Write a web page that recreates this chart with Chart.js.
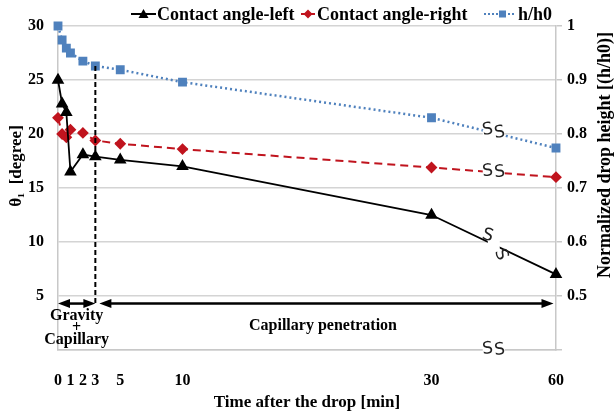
<!DOCTYPE html>
<html lang="en">
<head>
    <meta charset="UTF-8">
    <title>Contact angle and drop height</title>
    <script src="https://cdn.jsdelivr.net/npm/chart.js"></script>
    <style>
        body { margin: 0; background: #fff; }
    </style>
</head>
<body>
    <canvas id="angleChart" width="615" height="414"></canvas>

    <script>
        var timeMin = [0, 0.33, 0.67, 1, 2, 3, 5, 10, 30, 60];
        var angleLeft = [25.0, 22.8, 22.0, 16.5, 18.1, 17.9, 17.6, 17.0, 12.5, 7.0];
        var angleRight = [21.5, 20.0, 19.7, 20.4, 20.1, 19.4, 19.1, 18.6, 16.9, 16.0];
        var heightRatio = [1.0, 0.974, 0.959, 0.95, 0.935, 0.926, 0.919, 0.896, 0.830, 0.774];
        var timeTicks = [0, 1, 2, 3, 5, 10, 30, 60];
        var angleTicks = [0, 5, 10, 15, 20, 25, 30];
        var ratioTicks = [0.4, 0.5, 0.6, 0.7, 0.8, 0.9, 1];

        // the time axis is broken after 30 min, the last 30 min get a third of the room
        function axisPos(t) { return t <= 30 ? t : 30 + (t - 30) / 3; }

        function points(values) {
            return timeMin.map(function (t, i) { return { x: axisPos(t), y: values[i] }; });
        }

        var SERIF = "'Liberation Serif', 'Times New Roman', serif";
        var RED = '#c0141e';
        var BLUE = '#4f81bd';

        function arrowHead(ctx, tipX, y, dir) {
            ctx.beginPath();
            ctx.moveTo(tipX, y);
            ctx.lineTo(tipX - dir * 12, y - 4.5);
            ctx.lineTo(tipX - dir * 12, y + 4.5);
            ctx.closePath();
            ctx.fill();
        }

        function doubleArrow(ctx, x0, x1, y) {
            ctx.beginPath();
            ctx.moveTo(x0 + 6, y);
            ctx.lineTo(x1 - 6, y);
            ctx.stroke();
            arrowHead(ctx, x0, y, -1);
            arrowHead(ctx, x1, y, 1);
        }

        function sMark(ctx, cx, cy, angle) {
            ctx.save();
            ctx.translate(cx, cy);
            ctx.rotate(angle || 0);
            ctx.font = "17px 'DejaVu Sans'";
            ctx.fillStyle = '#222';
            ctx.textAlign = 'center';
            ctx.textBaseline = 'middle';
            ctx.fillText('S', 0, 0);
            ctx.restore();
        }

        function gap(ctx, cx, cy, w, h) {
            ctx.fillStyle = '#fff';
            ctx.fillRect(cx - w / 2, cy - h / 2, w, h);
        }

        var decorations = {
            id: 'decorations',
            afterDatasetsDraw: function (chart) {
                var ctx = chart.ctx;
                var x = chart.scales.x, y = chart.scales.y, y1 = chart.scales.y1;
                var x3 = x.getPixelForValue(3);
                var arrowY = y.getPixelForValue(4.3);

                ctx.save();
                // dashed line at 3 min
                ctx.strokeStyle = '#000';
                ctx.lineWidth = 2;
                ctx.setLineDash([5, 3]);
                ctx.beginPath();
                ctx.moveTo(x3, y1.getPixelForValue(heightRatio[5]));
                ctx.lineTo(x3, arrowY);
                ctx.stroke();
                ctx.setLineDash([]);

                // phase arrows
                ctx.fillStyle = '#000';
                ctx.lineWidth = 2.5;
                doubleArrow(ctx, x.getPixelForValue(0), x3, arrowY);
                doubleArrow(ctx, x3 + 4, x.getPixelForValue(39.8), arrowY);

                // axis break marks
                var bx = x.getPixelForValue(35);
                var blueY = y1.getPixelForValue((heightRatio[8] + heightRatio[9]) / 2);
                var redY = y.getPixelForValue((angleRight[8] + angleRight[9]) / 2);
                var blackY = y.getPixelForValue((angleLeft[8] + angleLeft[9]) / 2);
                gap(ctx, bx, blueY, 22, 7);
                sMark(ctx, bx - 6, blueY - 3, -0.15);
                sMark(ctx, bx + 6, blueY, -0.15);
                gap(ctx, bx, redY, 22, 7);
                sMark(ctx, bx - 6, redY - 1, -0.1);
                sMark(ctx, bx + 6, redY, -0.1);
                gap(ctx, bx, blackY, 12, 10);
                sMark(ctx, bx - 6, blackY - 9, 0.3);
                sMark(ctx, bx + 7, blackY + 10, 1.2);
                gap(ctx, bx, chart.chartArea.bottom, 22, 5);
                sMark(ctx, bx - 6, chart.chartArea.bottom - 1, -0.1);
                sMark(ctx, bx + 6, chart.chartArea.bottom, -0.1);
                ctx.restore();
            },
            afterDraw: function (chart) {
                var ctx = chart.ctx;
                var x = chart.scales.x;
                var x3 = x.getPixelForValue(3);
                ctx.save();
                ctx.fillStyle = '#000';
                ctx.textBaseline = 'middle';

                // legend
                ctx.font = 'bold 18px ' + SERIF;
                ctx.textAlign = 'left';
                var ly = 14;
                ctx.strokeStyle = '#000';
                ctx.lineWidth = 2;
                ctx.beginPath(); ctx.moveTo(131, ly); ctx.lineTo(156, ly); ctx.stroke();
                ctx.beginPath(); ctx.moveTo(143.5, ly - 5); ctx.lineTo(148.5, ly + 4); ctx.lineTo(138.5, ly + 4); ctx.closePath(); ctx.fill();
                ctx.fillText('Contact angle-left', 157, ly + 1);

                ctx.strokeStyle = RED; ctx.fillStyle = RED;
                ctx.beginPath(); ctx.moveTo(301, ly); ctx.lineTo(315, ly); ctx.stroke();
                ctx.beginPath(); ctx.moveTo(308, ly - 4.5); ctx.lineTo(312.5, ly); ctx.lineTo(308, ly + 4.5); ctx.lineTo(303.5, ly); ctx.closePath(); ctx.fill();
                ctx.fillStyle = '#000';
                ctx.fillText('Contact angle-right', 317, ly + 1);

                ctx.strokeStyle = BLUE; ctx.fillStyle = BLUE;
                ctx.setLineDash([2, 2]);
                ctx.beginPath(); ctx.moveTo(484, ly); ctx.lineTo(515, ly); ctx.stroke();
                ctx.setLineDash([]);
                ctx.fillRect(499, ly - 3.5, 7, 7);
                ctx.fillStyle = '#000';
                ctx.fillText('h/h0', 518, ly + 1);

                // phase labels
                ctx.textAlign = 'center';
                ctx.font = 'bold 16px ' + SERIF;
                var gx = (x.getPixelForValue(0) + x3) / 2;
                ctx.fillText('Gravity', gx, 316);
                ctx.fillText('+', gx, 328);
                ctx.fillText('Capillary', gx, 340);
                ctx.fillText('Capillary penetration', 323, 326);

                // axis titles
                ctx.font = 'bold 17px ' + SERIF;
                ctx.fillText('Time after the drop [min]', 307, 403);

                ctx.save();
                ctx.translate(17, 166);
                ctx.rotate(-Math.PI / 2);
                ctx.fillText('\u03b8\u2081  [degree]', 0, 0);
                ctx.restore();

                ctx.font = 'bold 18px ' + SERIF;
                ctx.save();
                ctx.translate(605, 155);
                ctx.rotate(-Math.PI / 2);
                ctx.fillText('Normalized drop height [(h/h0)]', 0, 0);
                ctx.restore();
                ctx.restore();
            }
        };

        var tickFont = { family: SERIF, size: 16, weight: 'bold' };

        var ctx = document.getElementById('angleChart').getContext('2d');
        var angleChart = new Chart(ctx, {
            type: 'line',
            data: {
                datasets: [{
                    label: 'Contact angle-left',
                    data: points(angleLeft),
                    yAxisID: 'y',
                    borderColor: '#000',
                    backgroundColor: '#000',
                    borderWidth: 1.8,
                    pointStyle: 'triangle',
                    pointRadius: 5.5,
                    clip: false,
                    tension: 0
                }, {
                    label: 'Contact angle-right',
                    data: points(angleRight),
                    yAxisID: 'y',
                    borderColor: RED,
                    backgroundColor: RED,
                    borderWidth: 2,
                    borderDash: [8, 5],
                    pointStyle: 'rectRot',
                    pointRadius: 4.5,
                    clip: false,
                    tension: 0
                }, {
                    label: 'h/h0',
                    data: points(heightRatio),
                    yAxisID: 'y1',
                    borderColor: BLUE,
                    backgroundColor: BLUE,
                    borderWidth: 2.5,
                    borderDash: [2, 3],
                    pointStyle: 'rect',
                    pointRadius: 4.5,
                    clip: false,
                    tension: 0
                }]
            },
            options: {
                responsive: false,
                animation: false,
                layout: { padding: { top: 26, left: 0, right: 0, bottom: 0 } },
                plugins: {
                    legend: { display: false },
                    tooltip: { enabled: false }
                },
                scales: {
                    x: {
                        type: 'linear',
                        min: 0,
                        max: 40,
                        grid: { display: false },
                        border: { color: '#c8c8c8', width: 1.5 },
                        afterBuildTicks: function (scale) {
                            scale.ticks = timeTicks.map(function (t) { return { value: axisPos(t) }; });
                        },
                        ticks: {
                            autoSkip: false,
                            maxRotation: 0,
                            padding: 13,
                            color: '#000',
                            font: tickFont,
                            callback: function (value, index) { return timeTicks[index]; }
                        },
                        afterFit: function (scale) {
                            scale.height = 64;
                            scale.paddingLeft = 0;
                            scale.paddingRight = 0;
                        }
                    },
                    y: {
                        position: 'left',
                        min: 0,
                        max: 30,
                        grid: { color: '#d4d4d4', lineWidth: 1.5, drawTicks: false },
                        border: { color: '#c8c8c8', width: 1.5 },
                        afterBuildTicks: function (scale) {
                            scale.ticks = angleTicks.map(function (v) { return { value: v }; });
                        },
                        ticks: {
                            padding: 14,
                            color: '#000',
                            font: tickFont,
                            callback: function (value) { return value === 0 ? '' : value; }
                        },
                        afterFit: function (scale) { scale.width = 58; }
                    },
                    y1: {
                        position: 'right',
                        min: 0.4,
                        max: 1,
                        grid: { drawOnChartArea: false, color: '#c8c8c8', lineWidth: 1.5, tickLength: 6 },
                        border: { color: '#c8c8c8', width: 1.5 },
                        afterBuildTicks: function (scale) {
                            scale.ticks = ratioTicks.map(function (v) { return { value: v }; });
                        },
                        ticks: {
                            padding: 5,
                            color: '#000',
                            font: tickFont,
                            callback: function (value) { return value === 0.4 ? '' : value; }
                        },
                        afterFit: function (scale) { scale.width = 59; }
                    }
                }
            },
            plugins: [decorations]
        });
    </script>
</body>
</html>
